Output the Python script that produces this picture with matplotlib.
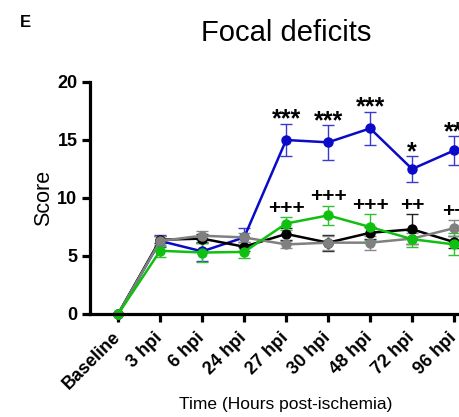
import matplotlib
matplotlib.use('Agg')
import matplotlib.pyplot as plt
import numpy as np

plt.rcParams['font.family'] = ['Liberation Sans', 'DejaVu Sans']

times = ['Baseline', '3 hpi', '6 hpi', '24 hpi', '27 hpi', '30 hpi', '48 hpi', '72 hpi', '96 hpi']

blue_mean = [0, 6.3, 5.4, 6.6, 15.0, 14.8, 16.0, 12.5, 14.1]
blue_err = [0, 0.5, 0.8, 0.8, 1.4, 1.5, 1.45, 1.1, 1.25]
black_mean = [0, 6.4, 6.5, 5.8, 6.9, 6.15, 7.0, 7.3, 6.2]
black_err = [0, 0.3, 0.4, 0.4, 0.5, 0.7, 0.5, 1.3, 0.5]
gray_mean = [0, 6.3, 6.75, 6.6, 6.0, 6.15, 6.15, 6.5, 7.4]
gray_err = [0, 0.4, 0.4, 0.4, 0.3, 0.6, 0.6, 0.5, 0.7]
green_mean = [0, 5.45, 5.3, 5.35, 7.8, 8.5, 7.5, 6.45, 6.0]
green_err = [0, 0.5, 0.8, 0.5, 0.55, 0.85, 1.1, 0.7, 0.95]

stars = ['', '', '', '', '***', '***', '***', '*', '**']
plus = ['', '', '', '', '+++', '+++', '+++', '++', '++']

fig = plt.figure(figsize=(4.6, 4.17), dpi=100)
ax = fig.add_axes([90/460, 103/417, 1 - 90/460, (314-82)/417])

x = np.arange(len(times))
series = [
    (blue_mean, blue_err, '#0a0ac8', '#3a3ad0'),
    (black_mean, black_err, '#000000', '#222222'),
    (gray_mean, gray_err, '#808080', '#8a8a8a'),
    (green_mean, green_err, '#10c010', '#30c030'),
]
for m, e, c, ec in series:
    ax.errorbar(x, m, yerr=e, color=c, ecolor=ec, lw=1.8, elinewidth=1.0,
                capsize=4, capthick=1.0, marker='o', markersize=6.5, clip_on=False)

# significance marks
for i in range(len(times)):
    if stars[i]:
        ax.text(x[i], blue_mean[i] + blue_err[i] + 0.35, stars[i], ha='center', va='center',
                fontsize=18, fontweight='bold', clip_on=False)
    if plus[i]:
        top = max(black_mean[i] + black_err[i], gray_mean[i] + gray_err[i],
                  green_mean[i] + green_err[i])
        ax.text(x[i], top + 0.75, plus[i], ha='center', va='center',
                fontsize=15, fontweight='bold', clip_on=False)

ax.set_xlim(-0.67, 8.14)
ax.set_ylim(0, 20)
ax.set_yticks([0, 5, 10, 15, 20])
ax.set_xticks(x)
ax.set_xticklabels(times, rotation=45, ha='right', va='center', rotation_mode='anchor',
                   fontsize=13, fontweight='bold')
for lab in ax.get_yticklabels():
    lab.set_fontsize(13)
    lab.set_fontweight('bold')

for s in ['top', 'right']:
    ax.spines[s].set_visible(False)
for s in ['left', 'bottom']:
    ax.spines[s].set_linewidth(2.3)
ax.tick_params(width=2.3, length=6, direction='out', pad=3)
ax.tick_params(axis='x', pad=9)

fig.text(0.622, 0.921, 'Focal deficits', ha='center', va='center', fontsize=21)
fig.text(0.043, 0.947, 'E', ha='left', va='center', fontsize=12, fontweight='bold')
fig.text(0.0957, 0.525, 'Score', rotation=90, ha='center', va='center', fontsize=15.5)
fig.text(0.622, 0.029, 'Time (Hours post-ischemia)', ha='center', va='center', fontsize=12.5)

fig.savefig('out.png', dpi=100)
